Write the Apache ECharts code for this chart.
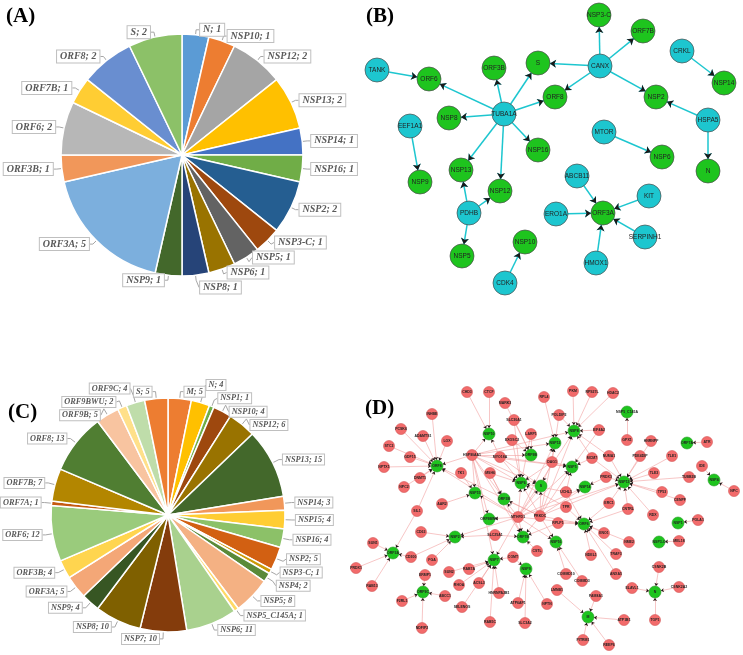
<!DOCTYPE html>
<html><head><meta charset="utf-8">
<script src="https://cdn.jsdelivr.net/npm/echarts@6/dist/echarts.min.js"></script>
<style>html,body{margin:0;padding:0;background:#fff}#c{width:743px;height:655px}</style>
</head><body><div id="c"></div>
<script>
// ---------- Panel A: pie ----------
const pieACategories = ['N','NSP10','NSP12','NSP13','NSP14','NSP16','NSP2','NSP3-C','NSP5','NSP6','NSP8','NSP9','ORF3A','ORF3B','ORF6','ORF7B','ORF8','S'];
const pieAValues = [1,1,2,2,1,1,2,1,1,1,1,1,5,1,2,1,2,2];
const pieAColors = ['#5B9BD5','#ED7D31','#A5A5A5','#FFC000','#4472C4','#70AD47','#255E91','#9E480E','#636363','#997300','#264478','#43682B','#7CAFDD','#F1975A','#B7B7B7','#FFCD33','#698ED0','#8CC168'];

// ---------- Panel C: pie ----------
const pieCCategories = ['M','N','NSP1','NSP10','NSP12','NSP13','NSP14','NSP15','NSP16','NSP2','NSP3-C','NSP4','NSP5','NSP5_C145A','NSP6','NSP7','NSP8','NSP9','ORF3A','ORF3B','ORF6','ORF7A','ORF7B','ORF8','ORF9B','ORF9BWU','ORF9C','S'];
const pieCValues = [5,4,1,4,6,15,3,4,4,5,1,2,8,1,11,10,10,4,5,4,12,1,7,13,5,2,4,5];
const pieCColors = ['#ED7D31','#FFC000','#70AD47','#9E480E','#997300','#43682B','#F1975A','#FFCD33','#8CC168','#D26012','#CC9A06','#5A8A39','#F4B183','#FFD966','#A9D18E','#843C0C','#7F6000','#375623','#F4A777','#FFD54F','#9ACB7C','#C55A11','#B38600','#507E32','#F8C4A0','#FFE08A','#BFDDAA','#ED7D31'];

// ---------- Panel B: network ----------
const netBHost = ['TANK','TUBA1A','CANX','CRKL','HSPA5','EEF1A1','MTOR','PDHB','ABCB11','KIT','ERO1A','SERPINH1','HMOX1','CDK4'];
const netBViral = ['ORF6','ORF3B','S','NSP3-C','ORF7B','ORF8','NSP2','NSP14','N','NSP8','NSP9','NSP16','NSP6','NSP13','NSP12','NSP5','ORF3A','NSP10'];
const netBLinks = [['TANK','ORF6'],['TUBA1A','ORF6'],['TUBA1A','ORF3B'],['TUBA1A','S'],['TUBA1A','ORF8'],['TUBA1A','NSP8'],['TUBA1A','NSP16'],['TUBA1A','NSP13'],['TUBA1A','NSP12'],
  ['CANX','S'],['CANX','NSP3-C'],['CANX','ORF7B'],['CANX','ORF8'],['CANX','NSP2'],['CRKL','NSP14'],['HSPA5','NSP2'],['HSPA5','N'],['EEF1A1','NSP9'],['MTOR','NSP6'],
  ['PDHB','NSP13'],['PDHB','NSP12'],['PDHB','NSP5'],['ABCB11','ORF3A'],['KIT','ORF3A'],['ERO1A','ORF3A'],['SERPINH1','ORF3A'],['HMOX1','ORF3A'],['CDK4','NSP10']];
// node layout (figure-wide x/y value axes)
const netBLayout = {
  TANK:[377,70], ORF6:[429,79], ORF3B:[494,68], S:[538,63], 'NSP3-C':[599,15], ORF7B:[643,31], CANX:[600,66], ORF8:[555,97], NSP2:[656,97],
  CRKL:[682,51], NSP14:[724,83], HSPA5:[708,120], N:[708,171], TUBA1A:[504,114], NSP8:[449,118], EEF1A1:[410,126], NSP9:[420,182],
  NSP16:[538,150], MTOR:[604,132], NSP6:[662,157], NSP13:[461,170], NSP12:[500,191], PDHB:[469,213], NSP5:[462,256], ABCB11:[577,176],
  KIT:[649,196], ERO1A:[556,214], ORF3A:[603,213], SERPINH1:[645,237], HMOX1:[596,263], NSP10:[525,242], CDK4:[505,283]
};

// ---------- Panel D: network ----------
const netDViral = ['M','N','NSP1','NSP10','NSP12','NSP13','NSP14','NSP15','NSP16','NSP2','NSP3-C','NSP4','NSP5','NSP5_C145A','NSP6','NSP7','NSP8','NSP9','ORF3A','ORF3B','ORF6','ORF7A','ORF7B','ORF8','ORF9B','ORF9BWU','ORF9C','S'];
const netDTargets = {
  ORF8:['INHBE','PCSK6','ADAMTS1','LOX','STC2','GDF15','NPTX1','DNMT1','NPC2','SIL1','HSP90AA1','MTHFD1','PRKDC'],
  NSP10:['CTCF','CHD3','HSP90AA1','MYO18A'],
  NSP12:['RPL4','POLDIP2','PRKDC','MTHFD1','HSP90AA1','DAG1'],
  NSP13:['HNRNPF','PDE4DIP','TLE1','TLE3','TUBB2B','TP53','CENPF','RDX','CNTRL','ERC1','PRDX3','NUMA1','MCM7','PRKDC','MTHFD1'],
  NSP14:['PRDX3','PRKDC','MTHFD1'],
  NSP15:['TK1','HSP90AA1','AAR2','MTHFD1'],
  NSP16:['COMMD10','COMMD3','PRKDC','MTHFD1'],
  NSP2:['CD63','CD300','FGA','MTHFD1','SLC25A1'],
  'NSP3-C':['MEL18'],
  NSP4:['IDE','NPC'],
  NSP1:['POLA1'],
  NSP5:['EIF4A2','MCM7','PRKDC','MTHFD1','HSP90AA1','DAG1','UCHL1','MYO18A'],
  NSP5_C145A:['GPX1'],
  NSP6:['HSP90AA1','MYO18A','MSH6','MTHFD1','PRKDC','LARP1','EXOSC2','SLC30A1','DAG1','UCHL1','TPR'],
  NSP7:['SUN2','RAB7A','ACSL3','RHOA','HNRNPA2B1','RAB5C','SELENOS','COMT','HSP90AA1','MTHFD1'],
  NSP8:['PKM','RPS27L','HDAC2','POLDIP2','EIF4A2','NUMA1','PRKDC','MTHFD1','HSP90AA1','MCM7'],
  NSP9:['ATP6AP1','SLC3A2','NPTN','COMT'],
  ORF3A:['SUN1','PRDX1','RAB13','CD300','SIL1'],
  ORF3B:['HSP90AA1','MSH6','MTHFD1','PRKDC'],
  ORF6:['ENO1','NDEL1','TRAF3','ANXA5','NME2','ERC1','CNTRL','PRKDC','MTHFD1','UCHL1','TPR','RPLP1'],
  ORF7A:['ATR'],
  ORF7B:['MTHFD1','PRKDC','SLC25A1','HSP90AA1','MSH6','CSTL','RPLP1'],
  ORF9B:['MARK3','SLC30A1','EXOSC2','LARP1','HSP90AA1'],
  ORF9BWU:['MTHFD1','HSP90AA1'],
  ORF9C:['ERMP1','F2RL1','ABCC1','NDFIP2'],
  M:['LMNB1','FAM8A1','ATP1B1','PITRM1','REEP6'],
  N:['CSNK2B','CSNK2A2','ELAVL1','TOP1'],
  S:['HSP90AA1','PRKDC','MTHFD1','DAG1','MYO18A']
};
const netDLayout = {
  M:[588,617], N:[655,592], NSP1:[678,523], NSP10:[489,434], NSP12:[555,443], NSP13:[624,482], NSP14:[585,487], NSP15:[475,493],
  NSP16:[556,542], NSP2:[455,537], 'NSP3-C':[659,542], NSP4:[714,480], NSP5:[572,467], NSP5_C145A:[627,412], NSP6:[521,483],
  NSP7:[494,560], NSP8:[574,431], NSP9:[526,569], ORF3A:[393,553], ORF3B:[504,499], ORF6:[584,524], ORF7A:[687,443],
  ORF7B:[523,537], ORF8:[437,466], ORF9B:[531,455], ORF9BWU:[489,519], ORF9C:[423,592], S:[541,486],
  CTCF:[489,392], CHD3:[467,392], MARK3:[505,403], SLC30A1:[514,420], RPL4:[544,397], PKM:[573,391], RPS27L:[592,392], HDAC2:[613,393],
  POLDIP2:[559,415], EIF4A2:[599,430], MCM7:[592,458], NUMA1:[609,456], GPX1:[627,440], HNRNPF:[651,441], PDE4DIP:[640,456],
  TLE1:[672,456], TLE3:[654,473], TUBB2B:[689,477], TP53:[662,492], CENPF:[680,500], ATR:[707,442], IDE:[702,466], NPC:[734,491],
  PRDX3:[606,477], UCHL1:[566,492], ERC1:[609,503], CNTRL:[628,509], RDX:[653,515], POLA1:[698,520], MEL18:[679,541],
  CSNK2B:[659,567], CSNK2A2:[679,587], ELAVL1:[632,588], TOP1:[655,620], ANXA5:[616,574], TRAF3:[616,554], NME2:[629,542],
  ENO1:[604,533], NDEL1:[591,555], FAM8A1:[596,596], ATP1B1:[624,620], PITRM1:[583,640], REEP6:[609,645], LMNB1:[557,590],
  NPTN:[547,604], COMMD10:[566,574], COMMD3:[582,581], CSTL:[537,551], COMT:[513,557], SLC25A1:[495,535], RPLP1:[558,523],
  TPR:[566,507], MTHFD1:[518,517], PRKDC:[540,516], HSP90AA1:[472,455], MYO18A:[500,457], EXOSC2:[512,440], LARP1:[531,434],
  DAG1:[552,462], MSH6:[490,473], TK1:[461,473], NPC2:[404,487], DNMT1:[420,478], GDF15:[410,457], STC2:[389,446],
  PCSK6:[401,429], ADAMTS1:[423,436], LOX:[447,441], INHBE:[432,414], NPTX1:[384,467], AAR2:[442,504], ERCC3:[462,516],
  SIL1:[417,511], CD63:[421,532], CD300:[411,557], FGA:[432,560], ERMP1:[425,575], SUN2:[449,572], RAB7A:[469,569],
  RHOA:[459,585], ACSL3:[479,583], SELENOS:[462,607], HNRNPA2B1:[499,593], RAB5C:[490,622], ATP6AP1:[518,603], SLC3A2:[525,623],
  ABCC1:[445,596], F2RL1:[402,601], NDFIP2:[422,628], SUN1:[373,543], PRDX1:[356,568], RAB13:[372,586]
};

// ---------- build ----------
const serifLabel = {fontFamily:'Liberation Serif', fontStyle:'italic', fontWeight:'bold', color:'#595959',
  backgroundColor:'#fff', borderColor:'#BFBFBF', borderWidth:1, overflow:'none'};

function pieData(cats, vals, cols){ return cats.map((c,i)=>({name:c, value:vals[i], itemStyle:{color:cols[i]}})); }

// Callout placement derived from the slice angles, with an order-preserving overlap relaxation per side.
function pieCallouts(cats, vals, cx, cy, r, len, len2, gap, fontSize, pad){
  const total = vals.reduce((a,b)=>a+b,0);
  const h = fontSize + 2*pad + 3;
  let acc = 0;
  const items = vals.map((v,i)=>{
    const th = (acc + v/2)/total*2*Math.PI; acc += v;
    const s = Math.sin(th), c = Math.cos(th), side = s >= 0 ? 1 : -1;
    const p0 = [cx + r*s, cy - r*c], p1 = [cx + (r+len)*s, cy - (r+len)*c];
    const w = (cats[i].length + 2 + String(v).length) * fontSize * 0.5 + 2*pad + 2;
    const x0 = p1[0] + side*(len2+gap);
    return {side, p0, p1, y:p1[1], x0, xmin: side>0 ? x0 : x0 - w, xmax: side>0 ? x0 + w : x0};
  });
  [1,-1].forEach(side=>{
    const L = items.filter(it=>it.side===side).sort((a,b)=>a.y-b.y);
    for (let iter=0; iter<500; iter++){
      let moved = false;
      for (let a=0; a<L.length; a++) for (let b=a+1; b<L.length; b++){
        const A = L[a], B = L[b];
        if (A.xmax < B.xmin - 1 || B.xmax < A.xmin - 1) continue;
        const d = B.y - A.y;
        if (d < h){ const push = (h - d)/2 + 0.01; A.y -= push; B.y += push; moved = true; }
      }
      if (!moved) break;
    }
  });
  return items.map(it=>({x:it.x0, y:it.y, align: it.side>0 ? 'left' : 'right', verticalAlign:'middle',
    labelLinePoints:[it.p0, it.p1, [it.p1[0] + it.side*len2, it.y]]}));
}
const calloutA = pieCallouts(pieACategories, pieAValues, 182, 155, 121, 5, 3, 1, 10, 1);
const calloutC = pieCallouts(pieCCategories, pieCValues, 168, 515, 117, 7, 3, 1, 8.3, 1);

const CYAN='#1DC6CF', GREEN='#1EC41E', RED='#F26B6B';

const bNodes = netBHost.map(n=>({name:n, value:netBLayout[n], itemStyle:{color:CYAN}}))
  .concat(netBViral.map(n=>({name:n, value:netBLayout[n], itemStyle:{color:GREEN}})));
const bLinks = netBLinks.map(l=>({source:l[0], target:l[1]}));

const dHostSet = [];
const dLinks = [];
netDViral.forEach(v=>{ (netDTargets[v]||[]).forEach(h=>{ if(dHostSet.indexOf(h)<0) dHostSet.push(h); dLinks.push({source:h, target:v}); }); });
const dNodes = dHostSet.map(n=>({name:n, value:netDLayout[n], symbolSize:11, itemStyle:{color:RED, borderColor:'#D45555', borderWidth:0.6}}))
  .concat(netDViral.map(n=>({name:n, value:netDLayout[n], symbolSize:12, itemStyle:{color:GREEN, borderColor:'#2a9a2a', borderWidth:0.6}})));

// arrow-head overlay series: same nodes (invisible), links drawn with zero-width lines so only dark heads show
function arrowOverlay(nodes, links, headSize, nodeSize){
  return {type:'graph', coordinateSystem:'cartesian2d', xAxisIndex:0, yAxisIndex:0, silent:true, z:3,
    data:nodes.map(n=>({name:n.name, value:n.value, symbolSize:n.symbolSize||nodeSize})),
    links:links, symbolSize:nodeSize, itemStyle:{opacity:0}, label:{show:false},
    edgeSymbol:['none','arrow'], edgeSymbolSize:[0,headSize],
    lineStyle:{color:'#1a1a1a', width:0, opacity:1}};
}

const chart = echarts.init(document.getElementById('c'));
chart.setOption({
  animation:false,
  backgroundColor:'#fff',
  title:[
    {text:'(A)', left:1, top:1, textStyle:{fontFamily:'Liberation Serif', fontWeight:'bold', fontSize:21, color:'#000'}},
    {text:'(B)', left:361, top:1, textStyle:{fontFamily:'Liberation Serif', fontWeight:'bold', fontSize:21, color:'#000'}},
    {text:'(C)', left:3, top:397, textStyle:{fontFamily:'Liberation Serif', fontWeight:'bold', fontSize:21, color:'#000'}},
    {text:'(D)', left:360, top:393, textStyle:{fontFamily:'Liberation Serif', fontWeight:'bold', fontSize:21, color:'#000'}}
  ],
  grid:{left:0, top:0, width:743, height:655},
  xAxis:{type:'value', min:0, max:743, show:false},
  yAxis:{type:'value', min:0, max:655, inverse:true, show:false},
  series:[
    {type:'pie', center:[182,155], radius:121, startAngle:90, avoidLabelOverlap:false, data:pieData(pieACategories,pieAValues,pieAColors),
      itemStyle:{borderColor:'#fff', borderWidth:1.5},
      label:Object.assign({show:true, position:'outside', formatter:'{b}; {c}', fontSize:10, padding:[1,3]}, serifLabel),
      labelLine:{show:true, length:5, length2:3, lineStyle:{color:'#A6A6A6', width:1}},
      labelLayout:p=>calloutA[p.dataIndex]},
    {type:'pie', center:[168,515], radius:117, startAngle:90, avoidLabelOverlap:false, data:pieData(pieCCategories,pieCValues,pieCColors),
      itemStyle:{borderColor:'#fff', borderWidth:1.5},
      label:Object.assign({show:true, position:'outside', formatter:'{b}; {c}', fontSize:8.3, padding:[1,2]}, serifLabel),
      labelLine:{show:true, length:7, length2:3, lineStyle:{color:'#A6A6A6', width:1}},
      labelLayout:p=>calloutC[p.dataIndex]},
    {type:'graph', coordinateSystem:'cartesian2d', xAxisIndex:0, yAxisIndex:0, data:bNodes, links:bLinks, z:2,
      symbolSize:24, itemStyle:{borderColor:'#4a4a4a', borderWidth:0.7},
      edgeSymbol:['none','arrow'], edgeSymbolSize:[0,6],
      lineStyle:{color:CYAN, width:1.5, opacity:1},
      label:{show:true, position:'inside', fontSize:6.5, fontFamily:'Liberation Sans', color:'#222'}},
    arrowOverlay(bNodes, bLinks, 6, 24),
    {type:'graph', coordinateSystem:'cartesian2d', xAxisIndex:0, yAxisIndex:0, data:dNodes, links:dLinks, z:2,
      edgeSymbol:['none','arrow'], edgeSymbolSize:[0,3],
      lineStyle:{color:'#F2A0A0', width:0.6, opacity:1},
      label:{show:true, position:'inside', fontSize:3.5, fontFamily:'Liberation Sans', fontWeight:'bold', color:'#222'}},
    arrowOverlay(dNodes, dLinks, 3, 11)
  ]
});
</script></body></html>
